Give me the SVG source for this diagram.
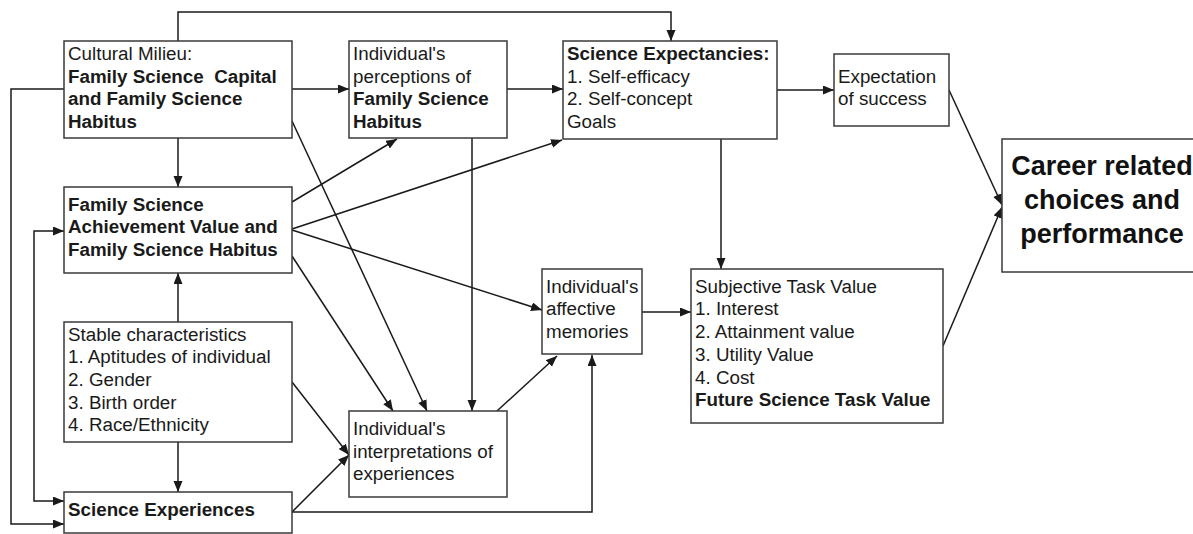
<svg xmlns="http://www.w3.org/2000/svg" width="1193" height="534" viewBox="0 0 1193 534">
<style>
.box{fill:#fff;stroke:#3a3a3a;stroke-width:1.5}
.t{font-family:"Liberation Sans",Arial,sans-serif;font-size:18.8px;fill:#1a1a1a}
.b{font-weight:bold}
.big{font-family:"Liberation Sans",Arial,sans-serif;font-size:27px;font-weight:bold;fill:#111;text-anchor:middle}
.c{fill:none;stroke:#1a1a1a;stroke-width:1.5}
</style>
<defs>
<marker id="ah" markerUnits="userSpaceOnUse" markerWidth="12" markerHeight="10" refX="11" refY="4.5" orient="auto-start-reverse">
<path d="M0,0 L11,4.5 L0,9 z" fill="#1a1a1a"/>
</marker>
</defs>
<rect width="1193" height="534" fill="#fff"/>
<g id="connectors">
<path class="c" d="M178,41 V12 H671 V41" marker-end="url(#ah)"/>
<path class="c" d="M292,89 H349" marker-end="url(#ah)"/>
<path class="c" d="M507,89 H563" marker-end="url(#ah)"/>
<path class="c" d="M777,90 H834" marker-end="url(#ah)"/>
<path class="c" d="M949,90 L1002,205" marker-end="url(#ah)"/>
<path class="c" d="M943,346 L1002,207" marker-end="url(#ah)"/>
<path class="c" d="M721,139 V269" marker-end="url(#ah)"/>
<path class="c" d="M178,138 V187" marker-end="url(#ah)"/>
<path class="c" d="M64,89 H11 V524 H64" marker-end="url(#ah)"/>
<path class="c" d="M64,231 H34 V501 H64" marker-start="url(#ah)" marker-end="url(#ah)"/>
<path class="c" d="M178,322 V273" marker-end="url(#ah)"/>
<path class="c" d="M178,442 V492" marker-end="url(#ah)"/>
<path class="c" d="M292,202 L397,139" marker-end="url(#ah)"/>
<path class="c" d="M292,229 L562,140" marker-end="url(#ah)"/>
<path class="c" d="M292,230 L542,310" marker-end="url(#ah)"/>
<path class="c" d="M292,256 L393,411" marker-end="url(#ah)"/>
<path class="c" d="M292,121 L427,411" marker-end="url(#ah)"/>
<path class="c" d="M472,138 V411" marker-end="url(#ah)"/>
<path class="c" d="M292,382 L349,455" marker-end="url(#ah)"/>
<path class="c" d="M292,512 L349,455" marker-end="url(#ah)"/>
<path class="c" d="M292,512 H592 V355" marker-end="url(#ah)"/>
<path class="c" d="M497,411 L557,356" marker-end="url(#ah)"/>
<path class="c" d="M642,312 H691" marker-end="url(#ah)"/>
</g>
<g id="cultural-milieu">
<rect class="box" x="64" y="41" width="228" height="97"/>
<text class="t" x="68" y="60">Cultural Milieu:</text>
<text class="t b" x="68" y="82.7" xml:space="preserve">Family Science  Capital</text>
<text class="t b" x="68" y="105.3">and Family Science</text>
<text class="t b" x="68" y="128">Habitus</text>
</g>
<g id="perceptions">
<rect class="box" x="349" y="41" width="158" height="97"/>
<text class="t" x="353" y="60">Individual's</text>
<text class="t" x="353" y="82.7">perceptions of</text>
<text class="t b" x="353" y="105.3">Family Science</text>
<text class="t b" x="353" y="128">Habitus</text>
</g>
<g id="science-expectancies">
<rect class="box" x="563" y="41" width="214" height="98"/>
<text class="t b" x="567" y="60">Science Expectancies:</text>
<text class="t" x="567" y="82.7">1. Self-efficacy</text>
<text class="t" x="567" y="105.3">2. Self-concept</text>
<text class="t" x="567" y="128">Goals</text>
</g>
<g id="expectation">
<rect class="box" x="834" y="54" width="115" height="72"/>
<text class="t" x="838" y="82.7">Expectation</text>
<text class="t" x="838" y="105.3">of success</text>
</g>
<g id="career">
<rect class="box" x="1002" y="139" width="200" height="133"/>
<text class="big" x="1102" y="175">Career related</text>
<text class="big" x="1102" y="209">choices and</text>
<text class="big" x="1102" y="243">performance</text>
</g>
<g id="fsav">
<rect class="box" x="64" y="187" width="228" height="86"/>
<text class="t b" x="68" y="210.7">Family Science</text>
<text class="t b" x="68" y="233.3">Achievement Value and</text>
<text class="t b" x="68" y="256">Family Science Habitus</text>
</g>
<g id="stable">
<rect class="box" x="64" y="322" width="228" height="120"/>
<text class="t" x="68" y="340.5">Stable characteristics</text>
<text class="t" x="68" y="363.2">1. Aptitudes of individual</text>
<text class="t" x="68" y="385.9">2. Gender</text>
<text class="t" x="68" y="408.6">3. Birth order</text>
<text class="t" x="68" y="431.3">4. Race/Ethnicity</text>
</g>
<g id="science-experiences">
<rect class="box" x="64" y="492" width="228" height="41"/>
<text class="t b" x="68" y="516">Science Experiences</text>
</g>
<g id="interpretations">
<rect class="box" x="349" y="411" width="158" height="86"/>
<text class="t" x="353" y="435">Individual's</text>
<text class="t" x="353" y="457.7">interpretations of</text>
<text class="t" x="353" y="480.4">experiences</text>
</g>
<g id="affective-memories">
<rect class="box" x="542" y="269" width="100" height="85"/>
<text class="t" x="546" y="292.7">Individual's</text>
<text class="t" x="546" y="315.4">affective</text>
<text class="t" x="546" y="338.1">memories</text>
</g>
<g id="subjective-task-value">
<rect class="box" x="691" y="269" width="252" height="154"/>
<text class="t" x="695" y="292.7">Subjective Task Value</text>
<text class="t" x="695" y="315.4">1. Interest</text>
<text class="t" x="695" y="338.1">2. Attainment value</text>
<text class="t" x="695" y="360.8">3. Utility Value</text>
<text class="t" x="695" y="383.5">4. Cost</text>
<text class="t b" x="695" y="406.2">Future Science Task Value</text>
</g>
</svg>
